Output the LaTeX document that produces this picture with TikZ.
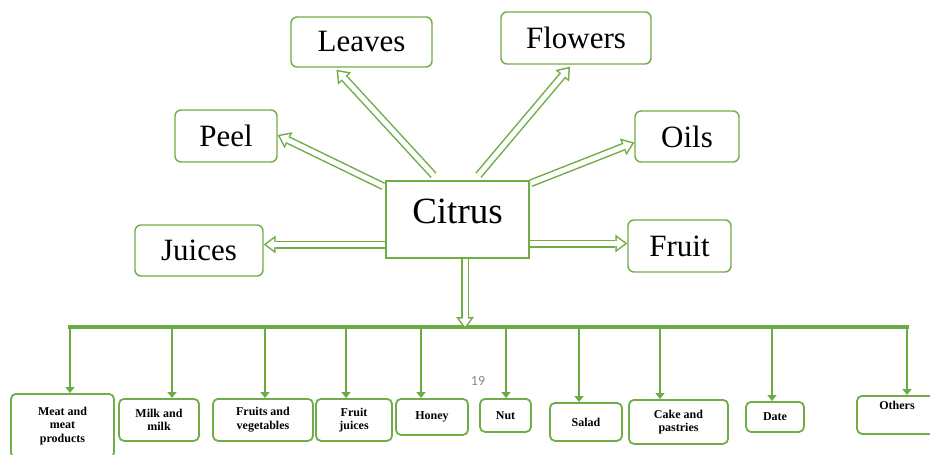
\documentclass[tikz,border=0pt]{standalone}
\usepackage{fontspec}
\setmainfont{Liberation Serif}
\newfontfamily\numfont{Carlito}
\usepackage{tikz}
\usetikzlibrary{arrows.meta,positioning,calc}
\definecolor{citGreen}{HTML}{70AD47}
\definecolor{busGreen}{HTML}{6CAB42}
\definecolor{pageGray}{HTML}{8C8C8C}

\begin{document}
\begin{tikzpicture}[
x=1pt, y=-1pt,
every node/.style={font=\normalsize},
topbox/.style={draw=citGreen, line width=1.4pt, rounded corners=6pt, align=center, inner sep=2pt, font=\fontsize{31}{33}\selectfont},
citbox/.style={draw=citGreen, line width=1.6pt, align=center, inner sep=2pt, font=\fontsize{37}{39}\selectfont},
subbox/.style={draw=citGreen, line width=1.8pt, rounded corners=5pt, align=center, inner sep=1pt, anchor=north, font=\fontsize{12}{13.5}\selectfont\bfseries},
harr/.style={preaction={draw=citGreen, line width=8pt, shorten >=0pt, -{Triangle[length=12pt, width=18pt, line width=0pt]}},
  draw=white, line width=5pt, shorten >=2.5pt, -{Triangle[length=8pt, width=12pt, line width=0pt]}},
darr/.style={draw=busGreen, line width=2.4pt, -{Triangle[length=6pt,width=9pt]}},
bus/.style={draw=busGreen, line width=3.8pt}
]
\useasboundingbox (0,0) rectangle (930,455);

% Centre and first ring
\node[citbox, minimum width=143pt, minimum height=77pt, text depth=16pt] (citrus) at (457.5,219.5) {Citrus};
\node[topbox, minimum width=141pt, minimum height=50pt] (leaves) at (361.5,42) {Leaves};
\node[topbox, minimum width=150pt, minimum height=52pt] (flowers) at (576,38) {Flowers};
\node[topbox, minimum width=102pt, minimum height=52pt] (peel) at (226,136) {Peel};
\node[topbox, minimum width=104pt, minimum height=51pt] (oils) at (687,136.5) {Oils};
\node[topbox, minimum width=128pt, minimum height=51pt] (juices) at (199,250.5) {Juices};
\node[topbox, minimum width=103pt, minimum height=52pt] (fruit) at (679.5,246) {Fruit};

\draw[harr] ([xshift=-2pt,yshift=-6pt]citrus.north west) -- ([yshift=1pt]peel.east);
\draw[harr] ([xshift=-24pt,yshift=5pt]citrus.north) -- ([xshift=-25pt,yshift=-2pt]leaves.south);
\draw[harr] ([xshift=21pt,yshift=5pt]citrus.north) -- ([xshift=-6pt,yshift=-2pt]flowers.south);
\draw[harr] ([xshift=1pt,yshift=-3pt]citrus.north east) -- ([yshift=-6pt]oils.west);
\draw[harr] ([yshift=-25pt]citrus.west) -- ([yshift=-25pt]citrus.west -| juices.east);
\draw[harr] ([yshift=-24pt]citrus.east) -- ([yshift=-24pt]citrus.east -| fruit.west);

% Products row
\node[subbox, minimum width=103pt, minimum height=64pt] (meat) at (62.5,393) {Meat and\\meat\\products};
\node[subbox, minimum width=80pt, minimum height=42pt] (milk) at (159,398) {Milk and\\milk};
\node[subbox, minimum width=100pt, minimum height=42pt] (veg) at (263,398) {Fruits and\\vegetables};
\node[subbox, minimum width=76pt, minimum height=42pt] (fjuice) at (354,398) {Fruit\\juices};
\node[subbox, minimum width=72pt, minimum height=36pt] (honey) at (432,398) {Honey};
\node[subbox, minimum width=51pt, minimum height=33pt] (nut) at (505.5,398) {Nut};
\node[subbox, minimum width=72pt, minimum height=38pt] (salad) at (586,402) {Salad};
\node[subbox, minimum width=99pt, minimum height=44pt] (cake) at (678.5,399) {Cake and\\pastries};
\node[subbox, minimum width=58pt, minimum height=30pt] (date) at (775,401) {Date};
\node[subbox, minimum width=80pt, minimum height=38pt] (others) at (897,395) {Others\\[6pt]};

\node[font=\numfont\fontsize{14}{15}\selectfont, text=pageGray] (page) at (478,381) {19};

% Bus and drops
\foreach \n/\x in {meat/70, milk/172, veg/265, fjuice/346, honey/421, nut/506, salad/579, cake/660, date/772, others/907}{
  \coordinate (b\n) at (\x,327);
  \draw[darr] (b\n) -- (b\n |- \n.north);
}
\draw[bus] ([xshift=-1.9pt]bmeat) -- ([xshift=1.9pt]bothers);
\coordinate (bcit) at (465,327);
\draw[harr] (bcit |- citrus.south) -- ([yshift=-2pt]bcit);

\end{tikzpicture}
\end{document}
